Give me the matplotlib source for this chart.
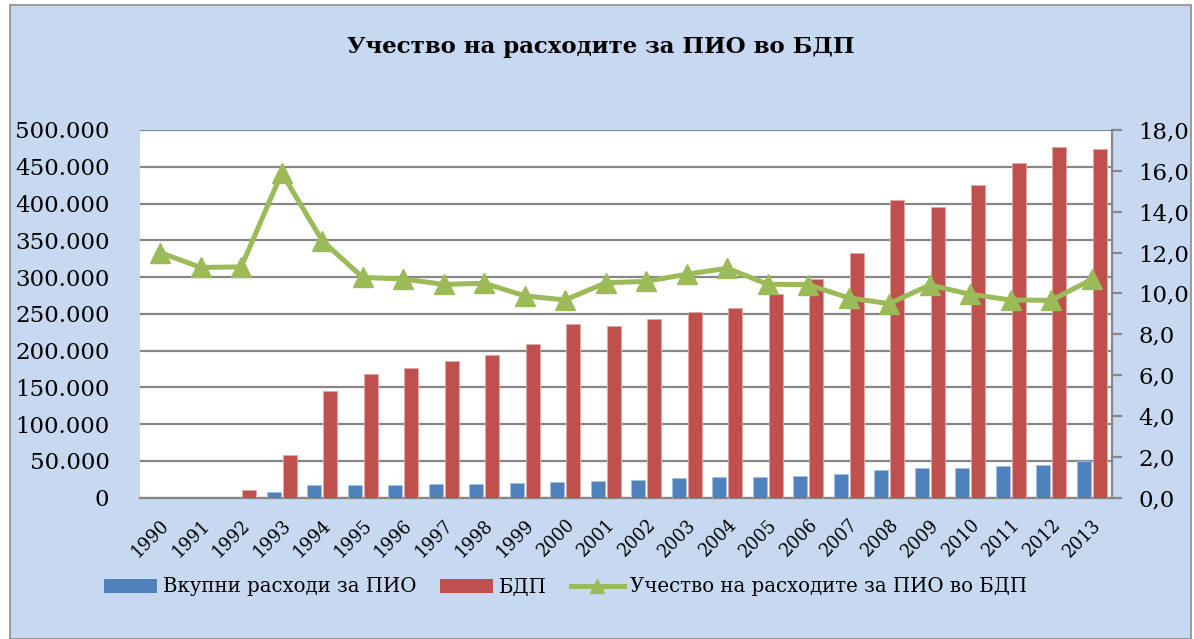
import matplotlib
matplotlib.use("Agg")
import matplotlib.pyplot as plt
import numpy as np
from matplotlib.patches import Rectangle
from matplotlib.lines import Line2D
from matplotlib.ticker import FuncFormatter, MultipleLocator

years = [str(y) for y in range(1990, 2014)]
pio_expenses = [0, 0, 0, 8200, 17300, 16900, 17700, 18200, 19100, 19600, 21400,
                23100, 24500, 26400, 27800, 27800, 30000, 31900, 37300, 40000,
                40800, 43200, 44900, 49600]
gdp = [0, 0, 10000, 58000, 145700, 168800, 176000, 185700, 194300, 208800,
       236000, 233000, 243300, 252800, 258300, 276400, 297800, 333200, 405000,
       395800, 425700, 455300, 476500, 474700]
share = [12.0, 11.27, 11.3, 15.9, 12.58, 10.78, 10.71, 10.44, 10.5, 9.88, 9.68,
         10.52, 10.59, 10.94, 11.23, 10.45, 10.43, 9.78, 9.5, 10.41, 9.96, 9.68,
         9.66, 10.69]

title = "Учество на расходите за ПИО во БДП"
lbl_pio = "Вкупни расходи за ПИО"
lbl_gdp = "БДП"
lbl_share = "Учество на расходите за ПИО во БДП"

BLUE = "#4F81BD"
RED = "#C0504D"
GREEN = "#9BBB59"
BG = "#C6D9F1"
GRID = "#868686"

plt.rcParams['font.family'] = ['DejaVu Serif']

W, H = 1194, 639
fig = plt.figure(figsize=(W / 100, H / 100), dpi=100, facecolor="white")
fig.patches.append(Rectangle((10 / W, 0), (1191 - 10) / W, (H - 5) / H,
                             transform=fig.transFigure, facecolor=BG,
                             edgecolor="#8C8C8C", linewidth=1.2, zorder=-10))

ax = fig.add_axes([140 / W, 1 - 497.7 / H, (1112 - 140) / W, (497.7 - 130) / H])
ax.set_facecolor("white")
x = np.arange(len(years))
bw = 0.34
ax.bar(x - 0.2, pio_expenses, width=bw, color=BLUE, edgecolor="#A7C0DE", linewidth=0.6, zorder=3)
ax.bar(x + 0.2, gdp, width=bw, color=RED, edgecolor="#E0A9A7", linewidth=0.6, zorder=3)
ax.set_xlim(-0.5, len(years) - 0.5)
ax.set_ylim(0, 500000)
ax.yaxis.set_major_locator(MultipleLocator(50000))
ax.yaxis.set_major_formatter(FuncFormatter(lambda v, p: f"{int(v):,}".replace(",", ".")))
ax.grid(axis="y", color=GRID, linewidth=1.6, zorder=0)
ax.set_axisbelow(True)
for s in ["top", "left"]:
    ax.spines[s].set_visible(False)
ax.spines["bottom"].set_color(GRID)
ax.spines["bottom"].set_linewidth(1.6)
ax.spines["right"].set_visible(False)
ax.tick_params(axis="y", length=0, pad=22, labelsize=16.5)
ax.set_xticks(x)
ax.set_xticklabels(years, rotation=45, ha="right", va="top", rotation_mode="anchor")
ax.tick_params(axis="x", length=0, pad=13, labelsize=12.8)

ax2 = ax.twinx()
ax2.plot(x, share, color=GREEN, linewidth=3.6, marker="^", markersize=14,
         markerfacecolor=GREEN, markeredgecolor=GREEN, zorder=5)
ax2.set_ylim(0, 18)
ax2.yaxis.set_major_locator(MultipleLocator(2))
ax2.yaxis.set_major_formatter(FuncFormatter(lambda v, p: f"{v:.1f}".replace(".", ",")))
for s in ["top", "left", "bottom"]:
    ax2.spines[s].set_visible(False)
ax2.spines["right"].set_color(GRID)
ax2.spines["right"].set_linewidth(1.6)
ax2.tick_params(axis="y", length=7, width=1.6, color=GRID, pad=12, labelsize=16.5, direction="out")

fig.text(601 / W, 1 - 47 / H, title, ha="center", va="center", fontsize=16.5, fontweight="bold")

handles = [Rectangle((0, 0), 1, 1, facecolor=BLUE, edgecolor="none"),
           Rectangle((0, 0), 1, 1, facecolor=RED, edgecolor="none"),
           Line2D([], [], color=GREEN, linewidth=3.6, marker="^", markersize=10)]
fig.legend(handles, [lbl_pio, lbl_gdp, lbl_share], loc="center left",
           bbox_to_anchor=(86 / W, 1 - 587 / H), ncol=3, frameon=False,
           fontsize=14.2, handlelength=2.7, handleheight=0.7, handletextpad=0.3,
           columnspacing=1.2)

fig.savefig("out.png", dpi=100, facecolor="white")
